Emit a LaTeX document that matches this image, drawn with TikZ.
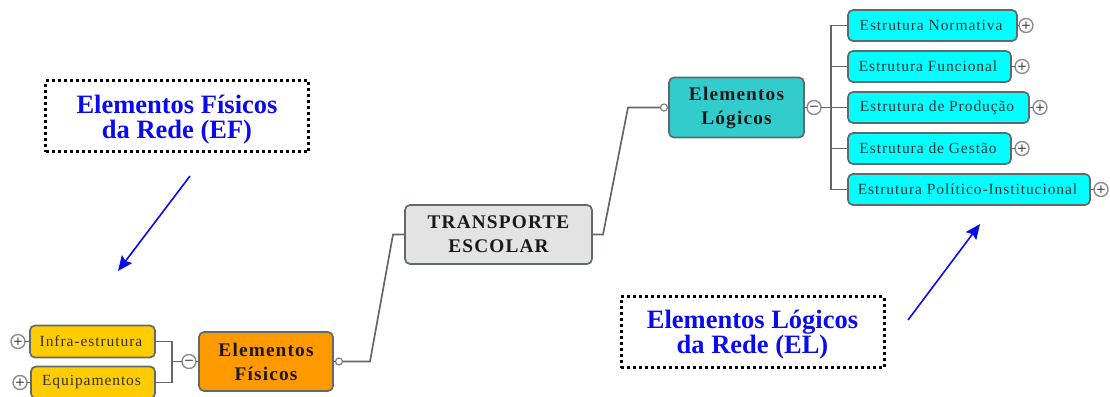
\documentclass[tikz,border=0pt]{standalone}
\usepackage{fontspec}
\setmainfont{Liberation Serif}
\newfontfamily\spaced[LetterSpace=6]{Liberation Serif}
\newfontfamily\spacedb[LetterSpace=6]{Liberation Serif Bold}
\usetikzlibrary{arrows.meta}
\definecolor{cyanbox}{HTML}{00FFFF}
\definecolor{tealbox}{HTML}{33CCCC}
\definecolor{orangebox}{HTML}{FF9900}
\definecolor{yellowbox}{HTML}{FFCC00}
\definecolor{greybox}{HTML}{E3E3E3}
\definecolor{edgegrey}{HTML}{5F6B6B}
\definecolor{linkgrey}{HTML}{666666}
\definecolor{labelblue}{HTML}{0A0AF0}
\tikzset{
  x=1pt,y=-1pt,
  every node/.style={inner sep=0pt,outer sep=0pt,align=center},
  topicbox/.style={draw=edgegrey,line width=1.7pt,rounded corners=5pt,anchor=center},
  leafbox/.style={topicbox,font=\fontsize{15.5}{17}\selectfont\spaced,text=black!80,execute at end node={\hspace*{3pt}}},
  mainbox/.style={topicbox,font=\fontsize{19.3}{24}\selectfont\spacedb,text=black!90},
  toggle/.style={circle,draw=black!45,line width=1.4pt,fill=white,minimum size=14pt,font=\fontsize{11}{11}\selectfont\sffamily\bfseries,text=black!85},
  stub/.style={circle,draw=black!50,line width=1.2pt,fill=white,minimum size=7pt},
  link/.style={draw=linkgrey,line width=1.7pt},
  notebox/.style={draw=black,line width=3pt,dash pattern=on 3pt off 3pt,minimum width=263pt,minimum height=71pt,text=labelblue,font=\fontsize{26.5}{24.5}\selectfont\bfseries},
  notearrow/.style={draw=labelblue,line width=1.6pt,-{Stealth[length=15pt,width=13pt,inset=2.5pt]}}
}
\begin{document}
\begin{tikzpicture}
\useasboundingbox (0,0) rectangle (1110,396);
\clip (0,0) rectangle (1110,396);
% notes
\node[notebox] (noteF) at (177,116) {\rule{0pt}{26pt}Elementos Físicos\\da Rede (EF)};
\node[notebox] (noteL) at (752.5,332) {\rule{0pt}{24pt}Elementos Lógicos\\da Rede (EL)};
\coordinate (aFs) at (190,176); \coordinate (aFe) at (118,271);
\coordinate (aLs) at (908,320); \coordinate (aLe) at (980,224);
\draw[notearrow] (aFs) -- (aFe);
\draw[notearrow] (aLs) -- (aLe);
% nodes
\node[mainbox,fill=greybox,minimum width=187pt,minimum height=59pt] (root) at (498.5,234.5) {TRANSPORTE\\ESCOLAR};
\node[mainbox,fill=tealbox,minimum width=135pt,minimum height=60pt] (logic) at (736.5,107.5) {Elementos\\Lógicos};
\node[mainbox,fill=orangebox,minimum width=134pt,minimum height=59pt] (phys) at (266,361.5) {Elementos\\Físicos};
\node[leafbox,fill=cyanbox,minimum width=169pt,minimum height=31pt] (n1) at (932.5,25.5) {Estrutura Normativa};
\node[leafbox,fill=cyanbox,minimum width=163pt,minimum height=31pt] (n2) at (929.5,66.5) {Estrutura Funcional};
\node[leafbox,fill=cyanbox,minimum width=181pt,minimum height=31pt] (n3) at (938.5,107.5) {Estrutura de Produção};
\node[leafbox,fill=cyanbox,minimum width=163pt,minimum height=31pt] (n4) at (929.5,148.5) {Estrutura de Gestão};
\node[leafbox,fill=cyanbox,minimum width=242pt,minimum height=31pt] (n5) at (969,189.5) {Estrutura Político-Institucional};
\node[leafbox,fill=yellowbox,minimum width=125pt,minimum height=32pt] (y1) at (92.5,341.5) {Infra-estrutura};
\node[leafbox,fill=yellowbox,minimum width=124pt,minimum height=32pt] (y2) at (93,382.5) {Equipamentos};
% toggles
\node[toggle] (p1) at (1026,25.5) {+};
\node[toggle] (p2) at (1022,66.5) {+};
\node[toggle] (p3) at (1040,107.5) {+};
\node[toggle] (p4) at (1022,148.5) {+};
\node[toggle] (p5) at (1101,189.5) {+};
\node[toggle] (py1) at (18,341.5) {+};
\node[toggle] (py2) at (20,382.5) {+};
\node[toggle] (mL) at (814,107.5) {−};
\node[toggle] (mF) at (189,361.5) {−};
\node[stub] (sL) at (664,107.5) {};
\node[stub] (sF) at (339,361.5) {};
% junctions
\coordinate (t1) at (831,25.5); \coordinate (t2) at (831,66.5); \coordinate (t3) at (831,107.5);
\coordinate (t4) at (831,148.5); \coordinate (t5) at (831,189.5);
\coordinate (u1) at (172,341.5); \coordinate (u2) at (172,382.5); \coordinate (u3) at (172,361.5);
\coordinate (rR1) at (603,234.5); \coordinate (rR2) at (628,107.5);
\coordinate (rL1) at (393,234.5); \coordinate (rL2) at (370,361.5);
% connectors
\draw[link] (root.east) -- (rR1) -- (rR2) -- (sL.west);
\draw[link] (root.west) -- (rL1) -- (rL2) -- (sF.east);
\draw[link] (sL.east) -- (logic.west);
\draw[link] (sF.west) -- (phys.east);
\draw[link] (logic.east) -- (mL.west);
\draw[link] (mF.east) -- (phys.west);
\draw[link] (mL.east) -- (t3) -- (n3.west);
\draw[link] (n1.west) -- (t1) -- (t5) -- (n5.west);
\draw[link] (t2) -- (n2.west);
\draw[link] (t4) -- (n4.west);
\draw[link] (y1.east) -- (u1) -- (u2) -- (y2.east);
\draw[link] (u3) -- (mF.west);
\draw[link] (n1.east) -- (p1.west);
\draw[link] (n2.east) -- (p2.west);
\draw[link] (n3.east) -- (p3.west);
\draw[link] (n4.east) -- (p4.west);
\draw[link] (n5.east) -- (p5.west);
\draw[link] (y1.west) -- (py1.east);
\draw[link] (y2.west) -- (py2.east);
\end{tikzpicture}
\end{document}
